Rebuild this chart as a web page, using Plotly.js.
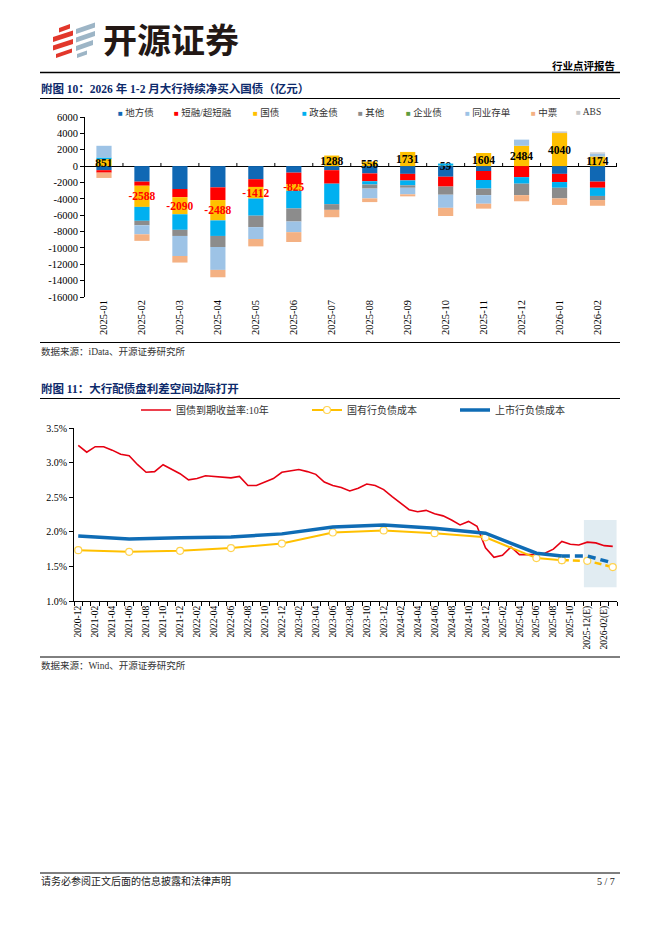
<!DOCTYPE html>
<html>
<head>
<meta charset="utf-8">
<script src="https://cdn.plot.ly/plotly-3.0.1.min.js"></script>
<style>
html,body{margin:0;padding:0;background:#fff;}
#page{width:662px;height:936px;}
</style>
</head>
<body>
<div id="page"></div>
<script>
// ---------------- Chart 1 data (亿元) ----------------
const months1 = ['2025-01','2025-02','2025-03','2025-04','2025-05','2025-06','2025-07','2025-08','2025-09','2025-10','2025-11','2025-12','2026-01','2026-02'];
const seriesNames1 = ['地方债','短融/超短融','国债','政金债','其他','企业债','同业存单','中票','ABS'];
const seriesColors1 = ['#1068b4','#ff0000','#ffc000','#00b0f0','#8c8c8c','#5e9c3c','#9dc3e6','#f4b183','#c9c9c9'];
const localGov   = [-500,-1900,-2800,-2600,-1600,-800,-500,-900,-950,-1300,-600,0,-950,-1900];
const shortBill  = [-300,-500,-1000,-1550,-950,-1400,-1650,-950,-800,-1200,-1100,-1350,-1000,-750];
const treasury   = [851,-2588,-2090,-2488,-1412,-825,1288,556,1731,59,1604,2484,4040,1174];
const policyBank = [200,-1700,-1900,-1900,-2100,-2150,-2500,-400,-600,250,-1050,-800,-700,-1000];
const others     = [0,-550,-750,-1350,-1400,-1600,-700,-500,-300,-1000,-800,-1400,-1300,-500];
const corpBond   = [0,0,0,0,0,0,0,0,0,0,0,0,0,0];
const ncd        = [1430,-1100,-2450,-2800,-1450,-1300,0,-1200,-800,-1600,-1050,750,0,350];
const mtn        = [-650,-800,-800,-900,-900,-1200,-900,-450,-250,-1000,-600,-750,-800,-700];
const abs        = [0,0,0,0,0,0,0,0,0,0,0,0,200,150];
const yTicks1    = [6000,4000,2000,0,-2000,-4000,-6000,-8000,-10000,-12000,-14000,-16000];

// ---------------- Chart 2 data (%) ----------------
const months2 = ['2020-12',
 '2021-01','2021-02','2021-03','2021-04','2021-05','2021-06','2021-07','2021-08','2021-09','2021-10','2021-11','2021-12',
 '2022-01','2022-02','2022-03','2022-04','2022-05','2022-06','2022-07','2022-08','2022-09','2022-10','2022-11','2022-12',
 '2023-01','2023-02','2023-03','2023-04','2023-05','2023-06','2023-07','2023-08','2023-09','2023-10','2023-11','2023-12',
 '2024-01','2024-02','2024-03','2024-04','2024-05','2024-06','2024-07','2024-08','2024-09','2024-10','2024-11','2024-12',
 '2025-01','2025-02','2025-03','2025-04','2025-05','2025-06','2025-07','2025-08','2025-09','2025-10','2025-11',
 '2025-12(E)','2026-01(E)','2026-02(E)','2026-03(E)'];
const cgb10y = [3.25,
 3.15,3.23,3.23,3.18,3.12,3.10,2.97,2.86,2.87,2.97,2.90,2.84,
 2.75,2.77,2.81,2.80,2.79,2.78,2.80,2.67,2.67,2.72,2.77,2.86,
 2.88,2.90,2.87,2.83,2.72,2.67,2.64,2.59,2.63,2.69,2.67,2.61,
 2.51,2.41,2.32,2.29,2.31,2.26,2.23,2.17,2.10,2.15,2.08,1.77,
 1.63,1.66,1.78,1.67,1.67,1.67,1.69,1.75,1.86,1.82,1.81,
 1.85,1.84,1.80,1.79];
const costMonths = ['2020-12','2021-06','2021-12','2022-06','2022-12','2023-06','2023-12','2024-06','2024-12','2025-06','2025-09','2025-12(E)','2026-03(E)'];
const stateCost  = [1.735,1.71,1.725,1.765,1.83,1.99,2.02,1.98,1.92,1.62,1.59,1.58,1.49];
const listedCost = [1.94,1.895,1.915,1.925,1.97,2.07,2.10,2.05,1.98,1.69,1.65,1.65,1.55];
const estimateFrom = '2025-09';
const yTicks2 = [1.0,1.5,2.0,2.5,3.0,3.5];
const seriesNames2 = ['国债到期收益率:10年','国有行负债成本','上市行负债成本'];

// ---------------- helpers ----------------
const W = 662, H = 936;
const X = v => v / W;
const Y = v => 1 - v / H;
const serif = 'Liberation Serif, Noto Sans CJK SC, serif';
const cjk = 'Noto Sans CJK SC, sans-serif';

// ---------------- traces ----------------
const seriesData1 = [localGov, shortBill, treasury, policyBank, others, corpBond, ncd, mtn, abs];
const traces = seriesData1.map((vals, k) => {
  const t = {
    type: 'bar', x: months1, y: vals, name: seriesNames1[k],
    marker: {color: seriesColors1[k], line: {width: 0}},
    xaxis: 'x', yaxis: 'y', showlegend: false, hoverinfo: 'skip'
  };
  if (seriesNames1[k] === '国债') {
    t.text = vals.map(v => String(v));
    t.textposition = 'inside';
    t.insidetextanchor = 'middle';
    t.constraintext = 'none';
    t.textangle = 0;
    t.textfont = {family: 'Liberation Serif, serif', size: 11.5, weight: 700,
                  color: vals.map(v => v < 0 ? '#ff0000' : '#000000')};
  }
  return t;
});

const idx = m => months2.indexOf(m);
const xIdx = months2.map((m, i) => i);
const costX = costMonths.map(idx);
const splitPos = costMonths.indexOf(estimateFrom);
const solidX = costX.slice(0, splitPos + 1);
const dashX = costX.slice(splitPos);

traces.push({
  type: 'scatter', mode: 'lines', x: xIdx, y: cgb10y, name: seriesNames2[0],
  line: {color: '#e60012', width: 1.6}, xaxis: 'x2', yaxis: 'y2', legend: 'legend', hoverinfo: 'skip'
});
traces.push({
  type: 'scatter', mode: 'lines+markers', x: solidX, y: stateCost.slice(0, splitPos + 1), name: seriesNames2[1],
  line: {color: '#ffc000', width: 2},
  marker: {symbol: 'circle', size: 7, color: '#ffffff', line: {color: '#ffd34f', width: 1.2}},
  xaxis: 'x2', yaxis: 'y2', legend: 'legend2', hoverinfo: 'skip'
});
traces.push({
  type: 'scatter', mode: 'lines+markers', x: dashX, y: stateCost.slice(splitPos), name: seriesNames2[1],
  line: {color: '#ffc000', width: 2.5, dash: '7px,4px'},
  marker: {symbol: 'circle', size: 7, color: '#ffffff', line: {color: '#ffd34f', width: 1.2}},
  xaxis: 'x2', yaxis: 'y2', showlegend: false, hoverinfo: 'skip'
});
traces.push({
  type: 'scatter', mode: 'lines', x: solidX, y: listedCost.slice(0, splitPos + 1), name: seriesNames2[2],
  line: {color: '#0f6cb5', width: 3.5},
  xaxis: 'x2', yaxis: 'y2', legend: 'legend3', hoverinfo: 'skip'
});
traces.push({
  type: 'scatter', mode: 'lines', x: dashX, y: listedCost.slice(splitPos), name: seriesNames2[2],
  line: {color: '#0f6cb5', width: 3.5, dash: '8px,5px'},
  xaxis: 'x2', yaxis: 'y2', showlegend: false, hoverinfo: 'skip'
});

// ---------------- shapes ----------------
const hline = (y, x0, x1, w, c) => ({type: 'line', xref: 'paper', yref: 'paper',
  x0: X(x0), x1: X(x1), y0: Y(y), y1: Y(y), line: {color: c || '#000', width: w || 1}});
const poly = (pts, color) => ({type: 'path', xref: 'paper', yref: 'paper', layer: 'above',
  path: 'M' + pts.map(p => X(p[0]) + ',' + Y(p[1])).join('L') + 'Z',
  fillcolor: color, line: {width: 0}});

const shapes = [
  hline(72.5, 40, 620, 1.5),
  hline(98.5, 40, 620, 1),
  hline(342.5, 40, 620, 1),
  hline(398.5, 40, 620, 1),
  hline(657, 40, 620, 1),
  hline(873, 40, 620, 1),
  // logo (approximate)
  poly([[59,28],[70,24],[70,28.5],[59,32.5]], '#e2372b'),
  poly([[53,37],[73,30.5],[73,35.5],[53,42]], '#e2372b'),
  poly([[53,45.5],[73,39],[73,44],[53,50.5]], '#e2372b'),
  poly([[56,54],[72,48.5],[72,52.5],[56,58]], '#e2372b'),
  poly([[76,29],[95,22.5],[95,27.5],[76,34]], '#9db5c6'),
  poly([[76,37.5],[95,31],[95,36],[76,42.5]], '#9db5c6'),
  poly([[76,46],[93,40],[93,45],[76,51]], '#9db5c6'),
  poly([[77,54],[87,50.5],[87,54.5],[77,58]], '#9db5c6'),
  // shaded estimate region
  {type: 'rect', xref: 'x2', yref: 'y2', layer: 'below',
   x0: idx('2025-12(E)') - 0.4, x1: costX[costX.length - 1] + 0.45, y0: 1.2, y1: 2.17,
   fillcolor: 'rgba(215,229,238,0.75)', line: {width: 0}}
];
// small tick marks on the zero line between categories (chart 1)
months1.forEach((m, i) => {
  shapes.push({type: 'line', xref: 'x', yref: 'y', layer: 'above',
    x0: i + 0.5, x1: i + 0.5, y0: 0, y1: 380, line: {color: '#000', width: 1}});
});

// ---------------- annotations ----------------
const txt = (s, x, y, opt) => Object.assign({xref: 'paper', yref: 'paper', x: X(x), y: Y(y),
  xanchor: 'left', yanchor: 'middle', showarrow: false, text: s,
  font: {family: serif, size: 10, color: '#000'}}, opt || {});

const annotations = [
  txt('开源证券', 101, 39, {font: {family: cjk, size: 34, weight: 700, color: '#231815'}}),
  txt('行业点评报告', 617, 66, {xanchor: 'right', font: {family: cjk, size: 10.5, weight: 700, color: '#000'}}),
  txt('附图 10：2026 年 1-2 月大行持续净买入国债（亿元）', 39, 88.5, {font: {family: serif, size: 11.5, weight: 700, color: '#0d2a6b'}}),
  txt('数据来源：iData、开源证券研究所', 39, 351, {font: {family: serif, size: 9.5, color: '#333'}}),
  txt('附图 11：大行配债盘利差空间边际打开', 39, 388.5, {font: {family: serif, size: 11.5, weight: 700, color: '#0d2a6b'}}),
  txt('数据来源：Wind、开源证券研究所', 39, 665, {font: {family: serif, size: 9.5, color: '#333'}}),
  txt('请务必参阅正文后面的信息披露和法律声明', 39, 881, {font: {family: serif, size: 10, color: '#222'}}),
  txt('5 / 7', 617, 881, {xanchor: 'right', font: {family: serif, size: 10, color: '#222'}})
];
// chart 1 legend
const legendX1 = [116, 172, 251, 300, 356, 404, 463, 529, 574];
seriesNames1.forEach((n, k) => {
  annotations.push(txt('<span style="color:' + seriesColors1[k] + ';font-size:8px">■</span> ' + n,
    legendX1[k], 112, {font: {family: serif, size: 9.5, color: '#333'}}));
});

// ---------------- layout ----------------
const legendBase = {orientation: 'h', yanchor: 'middle', xanchor: 'left', bgcolor: 'rgba(0,0,0,0)',
  font: {family: serif, size: 10, color: '#333'}, y: Y(410), itemwidth: 30, tracegroupgap: 0};

const layout = {
  width: W, height: H, margin: {l: 0, r: 0, t: 0, b: 0},
  paper_bgcolor: '#ffffff', plot_bgcolor: 'rgba(0,0,0,0)',
  barmode: 'relative', bargap: 0.6, showlegend: true,
  font: {family: serif, color: '#000'},
  xaxis: {domain: [X(85), X(617)], anchor: 'y', type: 'category', tickangle: -90,
    tickfont: {family: serif, size: 10.5, color: '#000'}, showline: false, ticks: '',
    showgrid: false, zeroline: false, fixedrange: true},
  yaxis: {domain: [Y(297), Y(117)], anchor: 'x', range: [-16000, 6000],
    tickmode: 'array', tickvals: yTicks1, ticktext: yTicks1.map(v => String(v)),
    showline: true, linecolor: '#000', linewidth: 1, ticks: 'outside', ticklen: 4, tickcolor: '#000',
    showgrid: false, zeroline: true, zerolinecolor: '#000', zerolinewidth: 1,
    tickfont: {family: serif, size: 10.5, color: '#000'}, fixedrange: true},
  xaxis2: {domain: [X(74), X(617)], anchor: 'y2', type: 'linear', range: [-0.5, months2.length - 0.5],
    tickmode: 'array', tickvals: xIdx.filter(i => i % 2 === 0), ticktext: months2.filter((m, i) => i % 2 === 0),
    tickangle: -90, ticks: '', tickfont: {family: serif, size: 9.5, color: '#000'},
    minor: {tick0: 0.5, dtick: 1, ticks: 'outside', ticklen: 4, tickcolor: '#000', showgrid: false},
    showline: true, linecolor: '#000', linewidth: 1, showgrid: false, zeroline: false, fixedrange: true},
  yaxis2: {domain: [Y(601), Y(428)], anchor: 'x2', range: [1.0, 3.5],
    tickmode: 'array', tickvals: yTicks2, ticktext: yTicks2.map(v => v.toFixed(1) + '%'),
    showline: true, linecolor: '#000', linewidth: 1, ticks: 'outside', ticklen: 4, tickcolor: '#000',
    showgrid: false, zeroline: false, tickfont: {family: serif, size: 10, color: '#000'}, fixedrange: true},
  legend: Object.assign({}, legendBase, {x: X(136)}),
  legend2: Object.assign({}, legendBase, {x: X(307)}),
  legend3: Object.assign({}, legendBase, {x: X(455)}),
  shapes: shapes,
  annotations: annotations
};

Plotly.newPlot('page', traces, layout, {staticPlot: true, displayModeBar: false});
</script>
</body>
</html>
